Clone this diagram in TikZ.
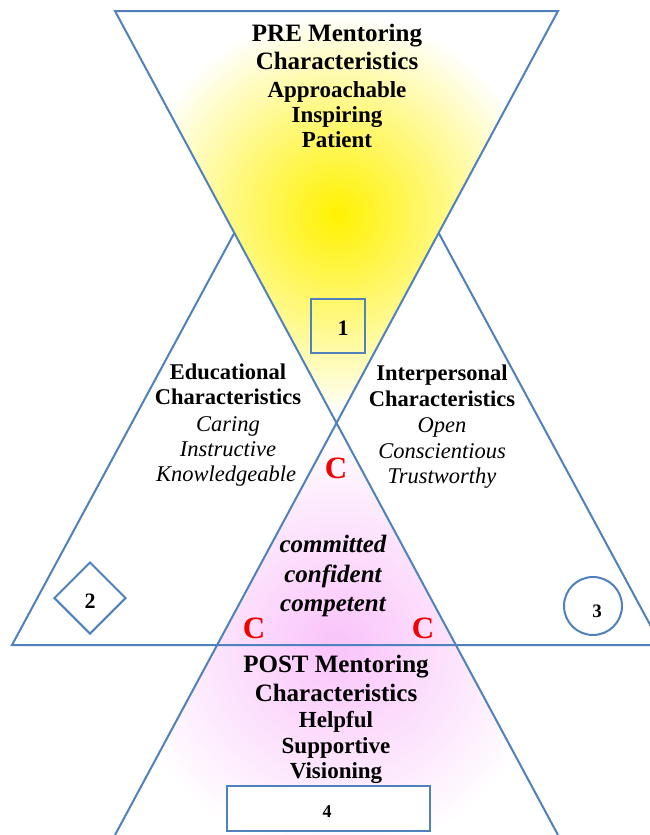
\documentclass[tikz,border=0pt]{standalone}
\usepackage{fontspec}
\setmainfont{Liberation Serif}
\usetikzlibrary{shapes.geometric}
\definecolor{lineblue}{RGB}{79,129,189}
\definecolor{pinkc}{RGB}{250,195,250}
\definecolor{redc}{RGB}{240,0,0}
\tikzset{
  edge/.style={draw=lineblue, line width=2pt, line join=miter},
  hd/.style={font=\fontsize{25}{28}\selectfont\bfseries, anchor=base, inner sep=0pt},
  sub/.style={font=\fontsize{23}{26}\selectfont\bfseries, anchor=base, inner sep=0pt},
  edh/.style={font=\fontsize{22.5}{25}\selectfont\bfseries, anchor=base, inner sep=0pt},
  edi/.style={font=\fontsize{22.5}{25}\selectfont\itshape, anchor=base, inner sep=0pt},
  ccc/.style={font=\fontsize{25}{28}\selectfont\bfseries\itshape, anchor=base, inner sep=0pt},
  redletter/.style={font=\fontsize{31}{34}\selectfont\bfseries, text=redc, anchor=base, inner sep=0pt},
  numlab/.style={font=\fontsize{22}{24}\selectfont\bfseries, anchor=base, inner sep=0pt},
  markbox/.style={draw=lineblue, line width=2pt, inner sep=0pt},
}
\begin{document}
\begin{tikzpicture}[x=1pt, y=-1pt]
\useasboundingbox (0,0) rectangle (650,835);
\fill[white] (0,0) rectangle (650,835);
% key points
\coordinate (TL) at (115,11);
\coordinate (TR) at (558,11);
\coordinate (X) at (336.5,423);
\coordinate (BL) at (115,835);
\coordinate (BR) at (558,835);
\coordinate (LA) at (234.3,233);
\coordinate (RA) at (438.7,233);
\coordinate (LB) at (12,645);
\coordinate (RB) at (661,645);
% yellow glow in the top triangle
\begin{scope}
  \clip (TL) -- (TR) -- (X) -- cycle;
  \foreach \k in {0,...,99}{
    \pgfmathsetmacro\rr{200-2*\k}
    \pgfmathsetmacro\pp{100*pow(1-\rr/201,0.95)}
    \fill[yellow!\pp!white] (338,215) circle[radius=\rr pt];
  }
\end{scope}
% pink glow in the lower region
\begin{scope}
  \clip (X) -- (BR) -- (BL) -- cycle;
  \foreach \k in {0,...,104}{
    \pgfmathsetmacro\rr{210-2*\k}
    \pgfmathsetmacro\pp{100*pow(1-\rr/211,0.95)}
    \fill[pinkc!\pp!white] (337,645) circle[radius=\rr pt];
  }
\end{scope}
% outlines
\draw[edge] (BR) -- (TL) -- (TR) -- (BL);
\draw[edge] (LA) -- (LB) -- (RB) -- (RA);
% marker shapes
\node[markbox, minimum width=54pt, minimum height=54pt] (box1) at (338,326) {};
\node[markbox, diamond, minimum width=72pt, minimum height=72pt] (dia2) at (90,598) {};
\node[markbox, circle, minimum size=58pt] (circ3) at (593,606) {};
\node[markbox, fill=white, minimum width=203pt, minimum height=45pt] (box4) at (328.5,808.5) {};
\node[numlab] (n1) at (343,335) {1};
\node[numlab] (n2) at (90,608) {2};
\node[numlab, font=\fontsize{19}{22}\selectfont\bfseries] (n3) at (597,617) {3};
\node[numlab, font=\fontsize{18}{21}\selectfont\bfseries] (n4) at (327,817) {4};
% PRE
\node[hd] (pre1) at (337,41) {PRE Mentoring};
\node[hd] (pre2) at (337,69) {Characteristics};
\node[sub] (pre3) at (337,97) {Approachable};
\node[sub] (pre4) at (337,122) {Inspiring};
\node[sub] (pre5) at (337,147) {Patient};
% Educational
\node[edh] (ed1) at (228,379) {Educational};
\node[edh] (ed2) at (228,404) {Characteristics};
\node[edi] (ed3) at (228,431) {Caring};
\node[edi] (ed4) at (228,456) {Instructive};
\node[edi] (ed5) at (226,481) {Knowledgeable};
% Interpersonal
\node[edh] (ip1) at (442,380) {Interpersonal};
\node[edh] (ip2) at (442,406) {Characteristics};
\node[edi] (ip3) at (442,432) {Open};
\node[edi] (ip4) at (442,458) {Conscientious};
\node[edi] (ip5) at (442,483) {Trustworthy};
% C's
\node[redletter] (c1) at (336,478) {C};
\node[redletter] (c2) at (254,638) {C};
\node[redletter] (c3) at (423,638) {C};
\node[ccc] (cc1) at (333,552) {committed};
\node[ccc] (cc2) at (333,582) {confident};
\node[ccc] (cc3) at (333,611) {competent};
% POST
\node[hd] (post1) at (336,672) {POST Mentoring};
\node[hd] (post2) at (336,701) {Characteristics};
\node[sub] (post3) at (336,727) {Helpful};
\node[sub] (post4) at (336,753) {Supportive};
\node[sub] (post5) at (336,778) {Visioning};
\end{tikzpicture}
\end{document}
